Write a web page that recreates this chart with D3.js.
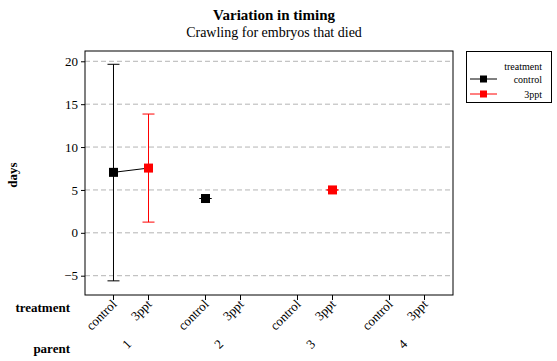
<!DOCTYPE html>
<html><head><meta charset="utf-8">
<script src="https://cdn.jsdelivr.net/npm/d3@7"></script>
<style>body{margin:0;background:#fff}svg, svg text{font-family:"Liberation Serif","Times New Roman",serif}</style>
</head><body><svg id="c" width="557" height="361" font-family="Liberation Serif"></svg>
<script>
const parents = ["1","2","3","4"];
const treatments = ["control","3ppt"];
const colors = ["#000000","#ff0000"];
const controlMean = [7.05, 4.0, null, null];
const controlUpper = [19.65, 4.0, null, null];
const controlLower = [-5.6, 4.0, null, null];
const pptMean = [7.55, null, 5.0, null];
const pptUpper = [13.85, null, 5.0, null];
const pptLower = [1.25, null, 5.0, null];
const yTicks = [-5, 0, 5, 10, 15, 20];

const FF = "Liberation Serif";
const svg = d3.select("#c");
const L = 85, R = 453, T = 51, B = 295;
const x0 = d3.scaleBand().domain(parents).range([L, R]);
const x1 = d3.scalePoint().domain(treatments).range([0, x0.bandwidth()]).padding(0.814);
const y = d3.scaleLinear().domain([-7.25, 21.2]).range([B, T]);
const xp = (p, t) => x0(p) + x1(t);

// title
svg.append("text").attr("x", 274).attr("y", 20).attr("text-anchor", "middle")
  .attr("font-weight", "bold").attr("font-size", 15).text("Variation in timing");
svg.append("text").attr("x", 274).attr("y", 37).attr("text-anchor", "middle")
  .attr("font-size", 14).text("Crawling for embryos that died");

// grid
svg.append("g").selectAll("line").data(yTicks).join("line")
  .attr("x1", L).attr("x2", R).attr("y1", d => y(d)).attr("y2", d => y(d))
  .attr("stroke", "#b4b4b4").attr("stroke-dasharray", "5,3");

// y axis
const ya = svg.append("g").attr("transform", `translate(${L},0)`)
  .call(d3.axisLeft(y).tickValues(yTicks).tickSize(4).tickPadding(3));
ya.attr("font-family", FF);
ya.select(".domain").remove();
ya.selectAll("text").attr("font-size", 13).attr("fill", "#000");
svg.append("text").attr("transform", "translate(17,175) rotate(-90)").attr("text-anchor", "middle")
  .attr("font-weight", "bold").attr("font-size", 13).text("days");

// x axis ticks and labels
const xt = [];
parents.forEach(p => treatments.forEach(t => xt.push({p, t})));
svg.append("g").selectAll("line").data(xt).join("line")
  .attr("x1", d => xp(d.p, d.t)).attr("x2", d => xp(d.p, d.t))
  .attr("y1", B).attr("y2", B + 5).attr("stroke", "#000");
svg.append("g").selectAll("text").data(xt).join("text")
  .attr("transform", d => `translate(${xp(d.p, d.t) + 4},${B + 10}) rotate(-45)`)
  .attr("text-anchor", "end").attr("font-size", 13).text(d => d.t);
svg.append("g").selectAll("text").data(parents).join("text")
  .attr("transform", d => `translate(${x0(d) + x0.bandwidth() / 2 + 1},${B + 50}) rotate(-45)`)
  .attr("text-anchor", "end").attr("font-size", 13).text(d => d);
svg.append("text").attr("x", 70).attr("y", 312).attr("text-anchor", "end")
  .attr("font-weight", "bold").attr("font-size", 13).text("treatment");
svg.append("text").attr("x", 70).attr("y", 353).attr("text-anchor", "end")
  .attr("font-weight", "bold").attr("font-size", 13).text("parent");

// data
const series = [
  {t: "control", m: controlMean, u: controlUpper, l: controlLower, c: colors[0]},
  {t: "3ppt", m: pptMean, u: pptUpper, l: pptLower, c: colors[1]}
];
parents.forEach((p, i) => {
  const pts = series.filter(s => s.m[i] != null).map(s => [xp(p, s.t), y(s.m[i])]);
  if (pts.length > 1) svg.append("path").attr("d", d3.line()(pts)).attr("stroke", "#000").attr("fill", "none");
});
const cap = 6, ms = 9;
series.forEach(s => {
  const g = svg.append("g");
  parents.forEach((p, i) => {
    if (s.m[i] == null) return;
    const cx = xp(p, s.t);
    g.append("line").attr("x1", cx).attr("x2", cx).attr("y1", y(s.u[i])).attr("y2", y(s.l[i])).attr("stroke", s.c);
    [s.u[i], s.l[i]].forEach(v => g.append("line").attr("x1", cx - cap).attr("x2", cx + cap)
      .attr("y1", y(v)).attr("y2", y(v)).attr("stroke", s.c));
    g.append("rect").attr("x", cx - ms / 2).attr("y", y(s.m[i]) - ms / 2).attr("width", ms).attr("height", ms).attr("fill", s.c);
  });
});

// frame
svg.append("rect").attr("x", L).attr("y", T).attr("width", R - L).attr("height", B - T)
  .attr("fill", "none").attr("stroke", "#000");

// legend
const lg = svg.append("g");
lg.append("rect").attr("x", 466.5).attr("y", 51.5).attr("width", 85).attr("height", 51)
  .attr("fill", "none").attr("stroke", "#000");
lg.append("text").attr("x", 542).attr("y", 70).attr("text-anchor", "end").attr("font-size", 10).text("treatment");
treatments.forEach((t, i) => {
  const yy = 79 + i * 15;
  lg.append("line").attr("x1", 470).attr("x2", 497).attr("y1", yy).attr("y2", yy).attr("stroke", colors[i]);
  lg.append("rect").attr("x", 480).attr("y", yy - 3.5).attr("width", 7).attr("height", 7).attr("fill", colors[i]);
  lg.append("text").attr("x", 542).attr("y", yy + 3.5).attr("text-anchor", "end").attr("font-size", 10).text(t);
});
</script></body></html>
